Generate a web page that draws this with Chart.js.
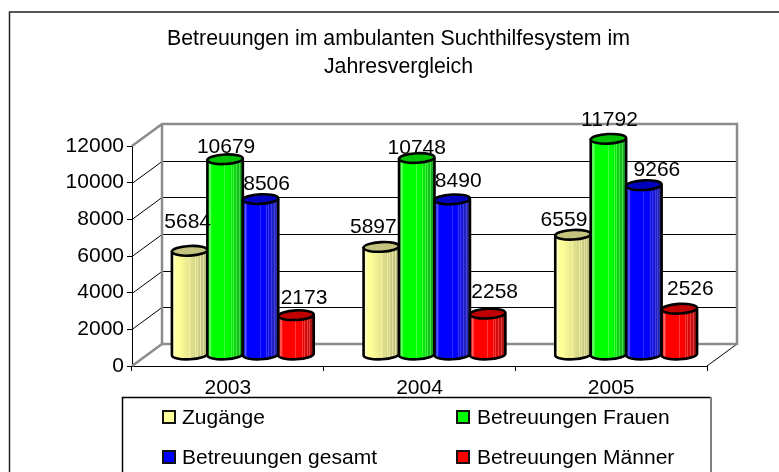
<!DOCTYPE html>
<html><head><meta charset="utf-8">
<style>html,body{margin:0;padding:0;background:#fff}#w{position:relative;width:779px;height:472px}</style>
<script src="https://cdn.jsdelivr.net/npm/chart.js@4"></script>
</head><body><div id="w"><canvas id="c" width="779" height="472"></canvas></div>
<script>
const titleLines = ['Betreuungen im ambulanten Suchthilfesystem im', 'Jahresvergleich'];
const categories = ['2003', '2004', '2005'];
const zugaenge = [5684, 5897, 6559];
const frauen = [10679, 10748, 11792];
const gesamt = [8506, 8490, 9266];
const maenner = [2173, 2258, 2526];
const yTicks = [0, 2000, 4000, 6000, 8000, 10000, 12000];

const FONT = '"Liberation Sans", Arial, sans-serif';
const DX = 30, DY = -22;            // depth of the 3-D box
const BX = 15, BY = -11;            // bars stand half way in
// manual placement of each value label, relative to the top of its bar: [series][year] = [dx, dy]
const LABEL_SHIFT = [
  [[-2,-29],[-8,-20],[-9,-15]],
  [[1,-12],[0,-10],[1,-19]],
  [[6,-15],[6,-18],[13,-15]],
  [[8,-17],[7,-21],[11,-19]]
];
const STYLE = [
  {fill:'#FFFF99', light:'#FFFFC0', dark:'#B8B87C', top:'#C4C480', fade:0.2},
  {fill:'#00FF00', light:'#70FF70', dark:'#1E9A28', top:'#00C000', fade:0.6},
  {fill:'#0000FF', light:'#5858FF', dark:'#34349C', top:'#0000C0', fade:0.6},
  {fill:'#FF0000', light:'#FF6868', dark:'#A01818', top:'#C00000', fade:0.6}
];
function styleOf(color){ return STYLE.find(s => s.fill === color) || STYLE[0]; }

// Bars keep the geometry the library computes; they are painted as cylinders, left to right.
Chart.BarElement.prototype.draw = function(){};
function cylinder(ctx, bar){
  const s = styleOf(bar.options.backgroundColor);
  const w = bar.width, L = bar.x - w/2 + BX, R = bar.x + w/2 + BX, cx = bar.x + BX;
  const T = bar.y + BY, B = bar.base + BY, ry = 4.8, rx = w/2, rot = -0.05;
  const g = ctx.createLinearGradient(L,0,R,0);
  [[0,s.fill],[0.08,s.light],[0.13,s.fill],[s.fade,s.fill],[1,s.dark]].forEach(p => g.addColorStop(p[0],p[1]));
  ctx.save();
  ctx.lineWidth = 2.6; ctx.strokeStyle = '#000'; ctx.lineJoin = 'round';
  ctx.beginPath();
  ctx.moveTo(L,T);
  ctx.lineTo(L,B);
  ctx.ellipse(cx,B,rx,ry,rot,Math.PI,0,true);
  ctx.lineTo(R,T);
  ctx.closePath();
  ctx.fillStyle = g; ctx.fill();
  // thin pale highlight stripes on the shaded side
  ctx.strokeStyle = s.light; ctx.globalAlpha = 0.55; ctx.lineWidth = 1;
  [0.48,0.66,0.72,0.8,0.88].forEach(f => {
    const x = Math.round(L + f*w) + .5;
    ctx.beginPath(); ctx.moveTo(x,T+3); ctx.lineTo(x,B+3); ctx.stroke();
  });
  ctx.globalAlpha = 1; ctx.strokeStyle = '#000'; ctx.lineWidth = 2.6;
  ctx.beginPath();
  ctx.moveTo(L,T);
  ctx.lineTo(L,B);
  ctx.ellipse(cx,B,rx,ry,rot,Math.PI,0,true);
  ctx.lineTo(R,T);
  ctx.stroke();
  ctx.beginPath();
  ctx.ellipse(cx,T,rx,ry,rot,0,Math.PI*2);
  ctx.fillStyle = s.top; ctx.fill(); ctx.stroke();
  ctx.restore();
}

const boxPlugin = {
  id:'box',
  beforeDatasetsDraw(chart){
    const {ctx, chartArea:a} = chart, y = chart.scales.y;
    ctx.save();
    ctx.strokeStyle = '#222'; ctx.lineWidth = 1.5;
    ctx.beginPath(); ctx.moveTo(9.5,472); ctx.lineTo(9.5,12); ctx.lineTo(779,12); ctx.stroke();
    ctx.strokeStyle = '#000'; ctx.lineWidth = 1;
    yTicks.slice(1,-1).forEach(v => {
      const p = Math.round(y.getPixelForValue(v)) + .5;
      ctx.beginPath(); ctx.moveTo(a.left,p); ctx.lineTo(a.left+DX,p+DY); ctx.lineTo(a.right+DX,p+DY); ctx.stroke();
    });
    ctx.beginPath(); ctx.moveTo(a.right,a.bottom); ctx.lineTo(a.right+DX,a.bottom+DY); ctx.stroke();
    ctx.strokeStyle = '#8C8C8C'; ctx.lineWidth = 2.5;
    ctx.beginPath();
    ctx.moveTo(a.left,a.top); ctx.lineTo(a.left+DX,a.top+DY); ctx.lineTo(a.right+DX,a.top+DY);
    ctx.lineTo(a.right+DX,a.bottom+DY); ctx.lineTo(a.left+DX,a.bottom+DY); ctx.lineTo(a.left+DX,a.top+DY);
    ctx.moveTo(a.left+DX,a.bottom+DY); ctx.lineTo(a.left,a.bottom);
    ctx.stroke();
    ctx.restore();
  },
  afterDatasetsDraw(chart){
    const {ctx} = chart;
    chart.data.datasets.forEach((ds,i) => chart.getDatasetMeta(i).data.forEach(bar => cylinder(ctx, bar)));
    ctx.save();
    ctx.fillStyle = '#000'; ctx.font = '21px '+FONT; ctx.textAlign='center'; ctx.textBaseline='middle';
    chart.data.datasets.forEach((ds,i) => {
      chart.getDatasetMeta(i).data.forEach((bar,j) => {
        const sh = LABEL_SHIFT[i][j];
        ctx.fillText(String(ds.data[j]), bar.x+BX+sh[0], bar.y+BY+sh[1]);
      });
    });
    ctx.strokeStyle = '#000'; ctx.lineWidth = 1.5;
    ctx.beginPath(); ctx.moveTo(122.5,472); ctx.lineTo(122.5,397.5); ctx.lineTo(711,397.5); ctx.stroke();
    ctx.strokeStyle = '#808080'; ctx.lineWidth = 2;
    ctx.beginPath(); ctx.moveTo(711,397); ctx.lineTo(711,472); ctx.stroke();
    const cols = [162, 456], rows = [418, 458];
    ctx.textAlign='left';
    chart.data.datasets.forEach((ds,i) => {
      const x = cols[i%2], y = rows[i>>1];
      ctx.fillStyle = ds.backgroundColor; ctx.strokeStyle='#111'; ctx.lineWidth=2;
      ctx.fillRect(x+1,y-7,12,12); ctx.strokeRect(x+1,y-7,12,12);
      ctx.fillStyle = '#000';
      ctx.fillText(ds.label, x+(i%2 ? 21 : 20), y);
    });
    ctx.restore();
  }
};

new Chart(document.getElementById('c'), {
  type:'bar',
  data:{
    labels:categories,
    datasets:[
      {label:'Zugänge', data:zugaenge, backgroundColor:'#FFFF99'},
      {label:'Betreuungen Frauen', data:frauen, backgroundColor:'#00FF00'},
      {label:'Betreuungen gesamt', data:gesamt, backgroundColor:'#0000FF'},
      {label:'Betreuungen Männer', data:maenner, backgroundColor:'#FF0000'}
    ]
  },
  options:{
    responsive:false, animation:false, events:[],
    layout:{padding:{left:18}},
    datasets:{bar:{barPercentage:1,categoryPercentage:0.74}},
    plugins:{
      legend:{display:false}, tooltip:{enabled:false},
      title:{display:true,text:titleLines,color:'#000',font:{family:FONT,size:21.3,weight:'normal',lineHeight:1.315},padding:{top:25,bottom:65}}
    },
    scales:{
      x:{
        afterFit(s){ s.height = 106; },
        grid:{drawOnChartArea:false,color:'#000',tickLength:5},
        border:{color:'#000'},
        ticks:{color:'#000',font:{family:FONT,size:21},padding:5,maxRotation:0}
      },
      y:{
        min:0,max:12000,
        afterFit(s){ s.width = 114; },
        afterBuildTicks(s){ s.ticks = yTicks.map(v => ({value:v})); },
        grid:{drawOnChartArea:false,color:'#000',tickLength:5},
        border:{color:'#000'},
        ticks:{color:'#000',font:{family:FONT,size:21},padding:3,callback:v => String(v)}
      },
      spacer:{
        position:'right',
        afterFit(s){ s.width = 72; },
        grid:{display:false}, border:{display:false}, ticks:{display:false}
      }
    }
  },
  plugins:[boxPlugin]
});
</script></body></html>
